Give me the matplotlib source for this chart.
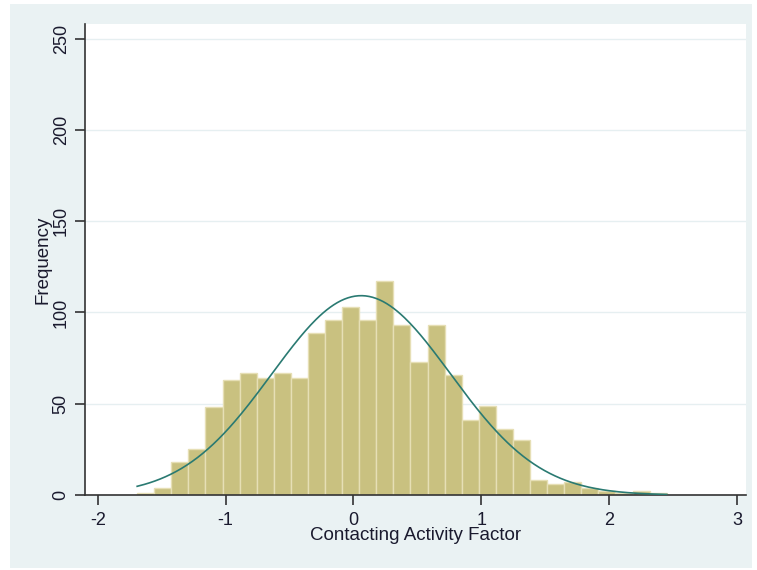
import matplotlib
matplotlib.use('Agg')
import matplotlib.pyplot as plt
import numpy as np

# histogram counts, 31 bins
counts = [1, 4, 18, 25, 48, 63, 67, 64, 67, 64, 89, 96, 103, 96, 117, 93,
          73, 93, 66, 41, 49, 36, 30, 8, 6, 7, 4, 2, 1, 2, 1]
bin_start = -1.692
bin_width = 0.1336
# fitted normal curve
mu = 0.06
sigma = 0.70

xticks = [-2, -1, 0, 1, 2, 3]
yticks = [0, 50, 100, 150, 200, 250]

plt.rcParams['font.family'] = ['Liberation Sans', 'DejaVu Sans']

W, H = 757, 570
fig = plt.figure(figsize=(W / 100, H / 100), dpi=100, facecolor='white')
# stata-style graph region
bg = fig.add_axes([10 / W, 2 / H, 742 / W, 564 / H], zorder=0)
bg.set_facecolor('#eaf2f3')
bg.set_xticks([])
bg.set_yticks([])
for s in bg.spines.values():
    s.set_visible(False)

ax = fig.add_axes([85 / W, 75 / H, 661 / W, 471 / H], zorder=1)
ax.set_facecolor('white')

edges = bin_start + bin_width * np.arange(len(counts))
ax.bar(edges, counts, width=bin_width, align='edge',
       color='#c9c180', edgecolor='#e6dfb5', linewidth=1.0, zorder=2)

n = sum(counts)
xs = np.linspace(bin_start, bin_start + bin_width * len(counts), 300)
ys = n * bin_width / (sigma * np.sqrt(2 * np.pi)) * np.exp(-0.5 * ((xs - mu) / sigma) ** 2)
ax.plot(xs, ys, color='#2a7a72', linewidth=1.2, zorder=3)

ax.set_xlim(-2.1, 3.07)
ax.set_ylim(0, 258)
ax.set_xticks(xticks)
ax.set_xticklabels([str(t) for t in xticks])
ax.set_yticks(yticks)
ax.set_yticklabels([str(t) for t in yticks], rotation=90, va='center')
ax.yaxis.grid(True, color='#e6eff1', linewidth=1.0, zorder=0)
ax.set_axisbelow(True)

for s in ['top', 'right']:
    ax.spines[s].set_visible(False)
for s in ['left', 'bottom']:
    ax.spines[s].set_color('#333333')
    ax.spines[s].set_linewidth(1.2)

ax.tick_params(axis='both', direction='out', length=7, width=1.2,
               color='#333333', labelsize=13, labelcolor='#1a1a2e')
ax.tick_params(axis='x', pad=5)
ax.tick_params(axis='y', pad=4)
ax.set_xlabel('Contacting Activity Factor', fontsize=13.5, color='#1a1a2e', labelpad=-1)
ax.set_ylabel('Frequency', fontsize=13.5, color='#1a1a2e', labelpad=1)

fig.savefig('out.png', dpi=100, facecolor='white')
